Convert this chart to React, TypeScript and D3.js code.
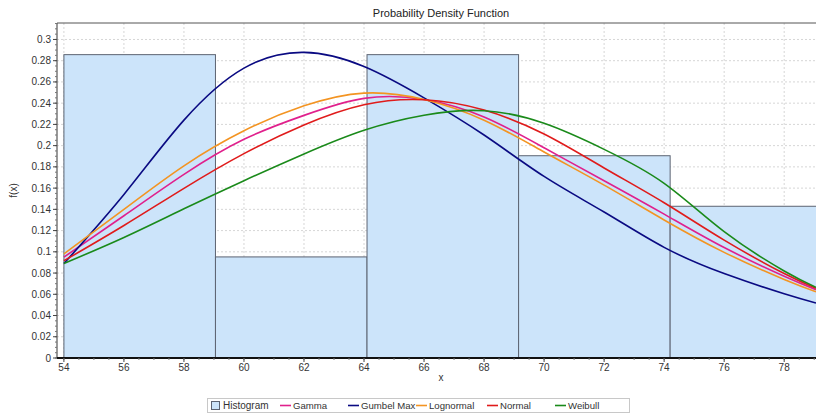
import React, { useEffect, useRef } from "react";
import * as d3 from "d3";

// histogram bins (relative frequency)
const binEdges = [54, 59.05, 64.1, 69.15, 74.2, 79.25];
const binHeights = [0.2857, 0.0952, 0.2857, 0.1905, 0.1429];

// fitted pdf curves
const xs = [54, 56, 58, 60, 62, 64, 66, 68, 70, 72, 74, 76, 78, 79.06];
const gamma = [0.095, 0.134, 0.173, 0.206, 0.2285, 0.2445, 0.2435, 0.227, 0.198, 0.167, 0.1355, 0.104, 0.077, 0.0643];
const gumbelMax = [0.089, 0.154, 0.224, 0.273, 0.2878, 0.2745, 0.245, 0.21, 0.171, 0.1375, 0.1042, 0.0795, 0.0605, 0.0518];
const lognormal = [0.098, 0.14, 0.181, 0.214, 0.2375, 0.2495, 0.2435, 0.224, 0.194, 0.1628, 0.13, 0.0995, 0.074, 0.0624];
const normal = [0.0916, 0.1248, 0.1598, 0.1925, 0.2195, 0.2385, 0.2432, 0.2335, 0.211, 0.179, 0.1462, 0.111, 0.0795, 0.0656];
const weibull = [0.089, 0.1135, 0.1405, 0.167, 0.1922, 0.2145, 0.2287, 0.2329, 0.221, 0.1965, 0.1645, 0.119, 0.082, 0.0665];

const seriesNames = ["Gamma", "Gumbel Max", "Lognormal", "Normal", "Weibull"];
const seriesValues = [gamma, gumbelMax, lognormal, normal, weibull];
const seriesColors = ["#e0208c", "#0a0a82", "#f39422", "#e01b1b", "#1a8a1a"];

const W = 816;
const H = 416;
const FONT = "'Liberation Sans', Arial, sans-serif";

const App = () => {
  const svgRef = useRef<SVGSVGElement | null>(null);

  useEffect(() => {
    if (!svgRef.current) return;
    const svg = d3.select(svgRef.current);
    svg.selectAll("*").remove();

    const left = 57;
    const right = 816;
    const top = 23;
    const bottom = 358;

    const x = d3.scaleLinear().domain([53.77, 79.06]).range([left, right]);
    const y = d3.scaleLinear().domain([0, 0.3155]).range([bottom, top]);

    svg.append("rect").attr("width", W).attr("height", H).attr("fill", "#fff");

    svg
      .append("text")
      .attr("x", 441)
      .attr("y", 17)
      .attr("text-anchor", "middle")
      .style("font-family", FONT)
      .style("font-size", "11px")
      .attr("fill", "#222")
      .text("Probability Density Function");

    svg
      .append("defs")
      .append("clipPath")
      .attr("id", "plot-clip")
      .append("rect")
      .attr("x", left)
      .attr("y", top)
      .attr("width", right - left)
      .attr("height", bottom - top);

    const xTicks = x.ticks(12);
    const yTicks = y.ticks(16);

    // grid
    const grid = svg.append("g").attr("stroke", "#d6d6d6").attr("stroke-dasharray", "2,2");
    yTicks.forEach((t) => {
      grid.append("line").attr("x1", left).attr("x2", right).attr("y1", y(t)).attr("y2", y(t));
    });
    xTicks.forEach((t) => {
      grid.append("line").attr("x1", x(t)).attr("x2", x(t)).attr("y1", top).attr("y2", bottom);
    });

    const plot = svg.append("g").attr("clip-path", "url(#plot-clip)");

    // histogram
    plot
      .selectAll("rect.bin")
      .data(binHeights)
      .enter()
      .append("rect")
      .attr("class", "bin")
      .attr("x", (d, i) => x(binEdges[i]))
      .attr("y", (d) => y(d))
      .attr("width", (d, i) => x(binEdges[i + 1]) - x(binEdges[i]))
      .attr("height", (d) => y(0) - y(d))
      .attr("fill", "#cce4fa")
      .attr("stroke", "#5d6472")
      .attr("stroke-width", 1);

    // curves
    const line = d3
      .line<number>()
      .x((d, i) => x(xs[i]))
      .y((d) => y(d))
      .curve(d3.curveNatural);

    seriesValues.forEach((vals, i) => {
      plot
        .append("path")
        .attr("d", line(vals))
        .attr("fill", "none")
        .attr("stroke", seriesColors[i])
        .attr("stroke-width", 1.6);
    });

    // frame
    svg.append("line").attr("x1", left).attr("x2", right).attr("y1", top).attr("y2", top).attr("stroke", "#555");
    svg
      .append("line")
      .attr("x1", left)
      .attr("x2", left)
      .attr("y1", top)
      .attr("y2", bottom)
      .attr("stroke", "#555")
      .attr("stroke-width", 1.2);
    svg
      .append("line")
      .attr("x1", left)
      .attr("x2", right)
      .attr("y1", bottom)
      .attr("y2", bottom)
      .attr("stroke", "#111")
      .attr("stroke-width", 2);

    // y ticks
    const yMinor = d3.range(0, 0.3151, 0.005);
    svg
      .append("g")
      .selectAll("line")
      .data(yMinor)
      .enter()
      .append("line")
      .attr("x1", left - 2)
      .attr("x2", left)
      .attr("y1", (d) => y(d))
      .attr("y2", (d) => y(d))
      .attr("stroke", "#777");
    const yAxis = svg.append("g");
    yTicks.forEach((t) => {
      yAxis.append("line").attr("x1", left - 4).attr("x2", left).attr("y1", y(t)).attr("y2", y(t)).attr("stroke", "#444");
      yAxis
        .append("text")
        .attr("x", left - 6)
        .attr("y", y(t))
        .attr("dy", "0.35em")
        .attr("text-anchor", "end")
        .style("font-family", FONT)
        .style("font-size", "10px")
        .attr("fill", "#333")
        .text(String(+t.toFixed(2)));
    });

    // x ticks
    const xMinor = d3.range(54, 79.01, 0.5);
    svg
      .append("g")
      .selectAll("line")
      .data(xMinor)
      .enter()
      .append("line")
      .attr("x1", (d) => x(d))
      .attr("x2", (d) => x(d))
      .attr("y1", bottom)
      .attr("y2", bottom + 2)
      .attr("stroke", "#777");
    const xAxis = svg.append("g");
    xTicks.forEach((t) => {
      xAxis.append("line").attr("x1", x(t)).attr("x2", x(t)).attr("y1", bottom).attr("y2", bottom + 4).attr("stroke", "#444");
      xAxis
        .append("text")
        .attr("x", x(t))
        .attr("y", bottom + 13)
        .attr("text-anchor", "middle")
        .style("font-family", FONT)
        .style("font-size", "10px")
        .attr("fill", "#333")
        .text(String(t));
    });

    // axis titles
    svg
      .append("text")
      .attr("x", 441)
      .attr("y", 381)
      .attr("text-anchor", "middle")
      .style("font-family", FONT)
      .style("font-size", "10px")
      .attr("fill", "#333")
      .text("x");
    svg
      .append("text")
      .attr("transform", `translate(17,${(top + bottom) / 2}) rotate(-90)`)
      .attr("text-anchor", "middle")
      .style("font-family", FONT)
      .style("font-size", "10px")
      .attr("fill", "#333")
      .text("f(x)");

    // legend
    const legend = svg.append("g");
    legend
      .append("rect")
      .attr("x", 207.5)
      .attr("y", 398.5)
      .attr("width", 422)
      .attr("height", 14)
      .attr("fill", "#fff")
      .attr("stroke", "#c8c8c8");
    const ly = 405.5;
    legend
      .append("rect")
      .attr("x", 211.5)
      .attr("y", ly - 4)
      .attr("width", 8)
      .attr("height", 8)
      .attr("fill", "#cce4fa")
      .attr("stroke", "#5d6472");
    legend
      .append("text")
      .attr("x", 223)
      .attr("y", ly)
      .attr("dy", "0.35em")
      .style("font-family", FONT)
      .style("font-size", "10px")
      .attr("fill", "#333")
      .text("Histogram");
    const itemX = [280, 348, 416, 487, 555];
    seriesNames.forEach((name, i) => {
      legend
        .append("line")
        .attr("x1", itemX[i])
        .attr("x2", itemX[i] + 11)
        .attr("y1", ly)
        .attr("y2", ly)
        .attr("stroke", seriesColors[i])
        .attr("stroke-width", 1.6);
      legend
        .append("text")
        .attr("x", itemX[i] + 13)
        .attr("y", ly)
        .attr("dy", "0.35em")
        .style("font-family", FONT)
        .style("font-size", "9.6px")
        .attr("fill", "#333")
        .text(name);
    });
  }, []);

  return (
    <div style={{ position: "absolute", left: 0, top: 0 }}>
      <svg ref={svgRef} width={W} height={H} style={{ display: "block" }} />
    </div>
  );
};

export default App;
